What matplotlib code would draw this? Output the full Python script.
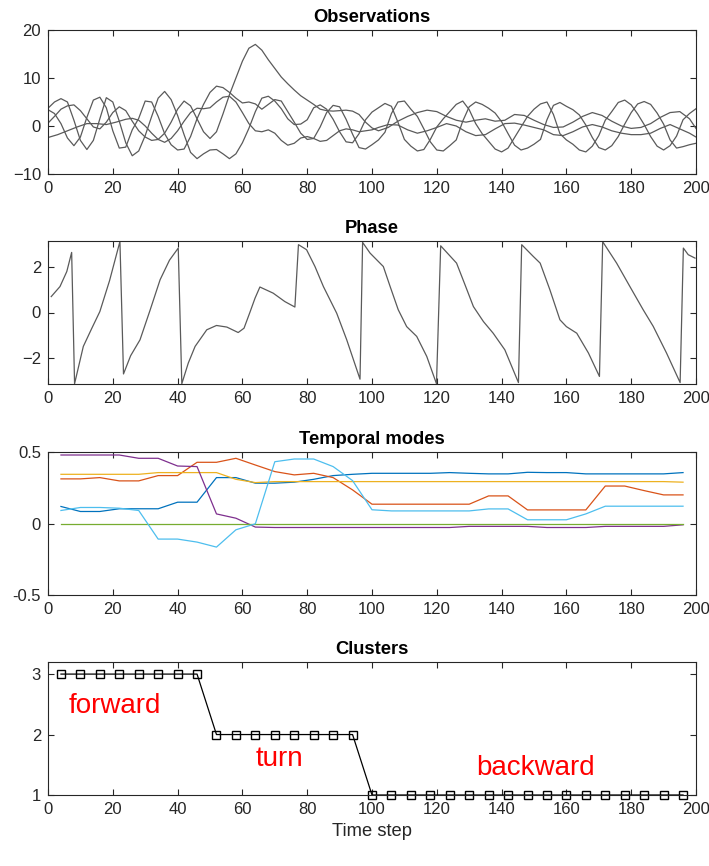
import numpy as np
import matplotlib
matplotlib.use("Agg")
import matplotlib.pyplot as plt

plt.rcParams['font.family'] = ['Liberation Sans', 'DejaVu Sans']

# ---- Observations (four signals) ----
grid_x = list(range(0, 201, 2))
obs_a1 = [3.4, 2.6, 0.5, -2.5, -4.1, -2.3, 1.8, 5.4, 6.0, 3.8,
          -1.0, -4.6, -4.4, -0.8, 1.6, 5.2, 5.0, 2.0, -1.6, -3.9,
          -5.0, -4.8, -2.2, 1.5, 4.5, 7.0, 8.3, 8.0, 7.0, 5.8,
          4.8, 5.0, 4.6, 3.5, 4.5, 5.5, 5.2, 3.0, 0.8, -1.5,
          -2.8, -2.6, -0.2, 2.8, 4.3, 4.0, 1.4, -1.7, -4.5, -4.8,
          -3.9, -2.9, -1.3, 2.6, 5.0, 5.2, 3.5, 2.0, -0.6, -3.3,
          -5.0, -5.2, -4.1, -2.9, 1.0, 4.0, 5.0, 4.5, 3.7, 2.7,
          0.9, -1.6, -4.0, -5.0, -4.6, -3.8, -2.8, 1.3, 4.3, 4.9,
          4.1, 3.4, 2.3, 0.2, -2.4, -4.5, -5.0, -4.1, -2.2, 0.4,
          2.8, 4.6, 5.1, 4.5, 2.7, 0.4, -2.9, -4.6, -4.3, -3.9,
          -3.6]
obs_a2 = [3.7, 5.0, 5.7, 5.0, 1.2, -3.0, -4.9, -3.0, 1.5, 5.9,
          5.0, 1.0, -3.5, -6.2, -5.2, -2.0, 2.0, 5.8, 7.2, 5.5,
          2.2, -1.8, -5.5, -6.8, -5.8, -5.0, -4.9, -5.8, -6.8, -5.8,
          -3.5, -0.5, 3.0, 5.8, 6.2, 5.2, 3.6, 1.5, 0.3, 0.4,
          1.3, 3.8, 4.4, 3.5, 1.4, -1.2, -3.3, -3.5, -1.6, 1.3,
          2.9, 3.8, 4.7, 4.1, 0.8, -2.8, -4.2, -5.2, -4.9, -2.8,
          -0.2, 1.5, 3.0, 4.5, 5.2, 3.4, 0.5, -1.6, -3.2, -4.8,
          -5.4, -4.6, -2.4, -0.2, 2.0, 3.5, 4.6, 5.0, 2.4, -1.6,
          -2.9, -3.8, -5.0, -5.4, -4.2, -2.0, 1.2, 3.0, 4.9, 5.4,
          4.4, 2.5, 0.3, -2.2, -4.2, -5.0, -4.1, -2.1, 1.3, 2.6,
          3.6]

a3_x = list(range(0, 101, 2)) + list(range(102, 199, 3)) + [200]
obs_a3 = [0.6, 2.0, 3.5, 4.2, 4.4, 3.2, 1.5, -0.2, -0.6, 0.8,
          2.8, 4.0, 3.2, 1.0, -1.0, -2.3, -3.0, -2.8, -1.5, 0.8,
          3.5, 5.2, 4.2, 1.5, -1.2, -2.6, -1.2, 2.5, 6.5, 10.0,
          13.5, 16.2, 17.0, 15.8, 13.8, 12.0, 10.2, 8.8, 7.5, 6.3,
          5.4, 4.5, 3.5, 3.2, 3.1, 3.2, 3.3, 3.1, 2.4, 0.8,
          -0.4,
          -1.0, -0.3, 1.0, 2.0, 2.8, 3.3, 3.0, 2.0, 1.2, 0.8,
          1.2, 1.5, 1.0, 1.2, 2.4, 2.2, 1.2, 0.3, -0.3, -0.2,
          0.8, 2.0, 2.8, 2.2, 1.0, 0.0, -0.5, -0.3, 0.5, 1.8,
          2.8, 3.0, 1.5,
          -0.5]

a4_x = [0, 3, 6, 9, 12, 15, 18, 21, 24] + list(range(26, 103, 2)) + list(range(105, 199, 3)) + [200]
obs_a4 = [-2.4, -1.8, -1.0, -0.2, 0.5, 0.5, 0.3, 0.8, 1.4,
          1.6, 1.2, 0.0, -1.5, -2.8, -3.4, -2.6, -1.0, 1.0, 2.8,
          3.7, 3.6, 3.8, 5.0, 6.0, 6.2, 5.0, 2.8, 0.5, -1.0,
          -1.2, -0.8, -1.5, -3.0, -4.0, -3.6, -2.5, -2.2, -2.6, -3.2,
          -3.0, -2.0, -1.0, -0.6, -0.8, -1.2, -1.0, -0.8, -0.3,
          0.3, 0.2, -0.8, -1.5, -1.0, -0.3, 0.5, 0.0, -1.2, -2.0,
          -1.8, -0.6, 0.5, 0.6, 0.2, -0.3, -0.8, -1.8, -2.0, -1.2,
          -0.2, 0.3, -0.2, -1.0, -1.5, -1.8, -1.8, -1.5, -0.5, 0.3,
          -0.6, -1.5,
          -2.3]

# ---- Phase ----
phase_x = [1, 3.7, 5.8, 7.3, 8.2, 10.9, 13.5, 16, 19, 22.2, 23.3, 25.5, 28.4, 31.5, 34.6, 37.5, 40.2,
           41.3, 43.3, 45.4, 49, 52, 55.2, 58.7, 60.5, 62.3, 63.9, 65.4, 69.5, 73.1, 76.2, 77.3, 79.8,
           82.4, 85, 89.1, 92.2, 96.3, 97.1, 99.4, 103.5, 105.6, 108.1, 110.7, 113.8, 116.9, 119.9,
           121.2, 126.1, 128.7, 131.3, 134.4, 137.4, 141, 145.2, 146.2, 149.8, 151.9, 154.9, 158, 160,
           163.2, 166.8, 170.2, 171.2, 175.5, 179.6, 183.7, 186.8, 190.9, 195.1, 196.1, 197.6, 199.7]
phase_y = [0.70, 1.14, 1.80, 2.64, -3.13, -1.49, -0.7, 0.04, 1.4, 3.12, -2.7, -1.9, -1.2, 0.1, 1.44,
           2.3, 2.83, -3.13, -2.22, -1.49, -0.76, -0.57, -0.64, -0.88, -0.69, 0.0, 0.63, 1.12, 0.85,
           0.48, 0.24, 2.98, 2.76, 2.02, 1.14, -0.03, -1.2, -2.93, 3.08, 2.61, 2.02, 1.14, 0.12, -0.62,
           -1.05, -1.93, -3.13, 2.93, 2.17, 1.22, 0.26, -0.40, -0.91, -1.64, -3.08, 2.98, 2.46, 2.17,
           1.0, -0.32, -0.62, -0.91, -1.78, -2.81, 3.11, 2.17, 1.14, 0.12, -0.61, -1.78, -3.08, 2.83,
           2.54, 2.39]

# ---- Temporal modes (33 windows) ----
mode_x = list(range(4, 197, 6))
mode_blue = [0.119, 0.084, 0.084, 0.103, 0.103, 0.103, 0.149, 0.149, 0.321, 0.321, 0.282, 0.282,
             0.289, 0.309, 0.335, 0.344, 0.351, 0.351, 0.351, 0.351, 0.356, 0.351, 0.347, 0.347,
             0.358, 0.356, 0.356, 0.347, 0.347, 0.347, 0.347, 0.347, 0.356]
mode_orange = [0.312, 0.312, 0.321, 0.298, 0.298, 0.335, 0.335, 0.428, 0.428, 0.456, 0.409, 0.363,
               0.340, 0.351, 0.321, 0.235, 0.135, 0.135, 0.135, 0.135, 0.135, 0.135, 0.193, 0.193,
               0.095, 0.095, 0.095, 0.095, 0.262, 0.262, 0.230, 0.200, 0.200]
mode_yellow = [0.344, 0.344, 0.344, 0.344, 0.344, 0.356, 0.356, 0.356, 0.356, 0.309, 0.286, 0.293,
               0.293, 0.293, 0.293, 0.293, 0.293, 0.293, 0.293, 0.293, 0.293, 0.293, 0.293, 0.293,
               0.293, 0.293, 0.293, 0.293, 0.293, 0.293, 0.293, 0.293, 0.289]
mode_purple = [0.479, 0.479, 0.479, 0.479, 0.456, 0.456, 0.402, 0.398, 0.067, 0.037, -0.025, -0.028,
               -0.028, -0.028, -0.028, -0.028, -0.028, -0.028, -0.028, -0.028, -0.028, -0.020, -0.020,
               -0.020, -0.020, -0.028, -0.028, -0.028, -0.020, -0.020, -0.020, -0.020, -0.009]
mode_green = [0.0] * 33
mode_cyan = [0.091, 0.112, 0.112, 0.107, 0.091, -0.109, -0.109, -0.130, -0.165, -0.044, -0.002,
             0.432, 0.451, 0.451, 0.398, 0.300, 0.096, 0.088, 0.088, 0.088, 0.088, 0.088, 0.102,
             0.102, 0.026, 0.026, 0.026, 0.067, 0.121, 0.121, 0.121, 0.121, 0.121]

# ---- Clusters ----
cluster_x = list(range(4, 197, 6))
cluster_id = [3] * 8 + [2] * 8 + [1] * 17
cluster_names = ['forward', 'turn', 'backward']
name_pos_x = [6.5, 64.2, 132.3]
name_pos_y = [2.36, 1.48, 1.33]

W, H = 709, 866
fig = plt.figure(figsize=(W / 100, H / 100), dpi=100)

left, width = 48 / W, 648 / W
boxes = [(30, 174), (241, 384), (452, 595), (662, 795)]
axes = []
for top, bot in boxes:
    ax = fig.add_axes([left, 1 - bot / H, width, (bot - top) / H])
    axes.append(ax)

for ax in axes:
    ax.set_xlim(0, 200)
    ax.set_xticks(range(0, 201, 20))
    ax.tick_params(direction='in', top=True, right=True, length=4.5, width=0.8,
                   labelsize=12, colors='#262626', pad=5)
    for s in ax.spines.values():
        s.set_color('#262626')
        s.set_linewidth(0.8)

ax1, ax2, ax3, ax4 = axes

grey = '#5a5a5a'
ax1.plot(grid_x, obs_a1, color=grey, lw=0.9)
ax1.plot(grid_x, obs_a2, color=grey, lw=0.9)
ax1.plot(a3_x, obs_a3, color=grey, lw=0.9)
ax1.plot(a4_x, obs_a4, color=grey, lw=0.9)
ax1.set_ylim(-10, 20)
ax1.set_yticks([-10, 0, 10, 20])
ax1.set_title('Observations', fontsize=13.2, fontweight='bold')

ax2.plot(phase_x, phase_y, color=grey, lw=0.9)
ax2.set_ylim(-np.pi, np.pi)
ax2.set_yticks([-2, 0, 2])
ax2.set_title('Phase', fontsize=13.2, fontweight='bold')

colors = ['#0072BD', '#D95319', '#EDB120', '#7E2F8E', '#77AC30', '#4DBEEE']
for ys, c in zip((mode_blue, mode_orange, mode_yellow, mode_purple, mode_green, mode_cyan), colors):
    ax3.plot(mode_x, ys, color=c, lw=0.9)
ax3.set_ylim(-0.5, 0.5)
ax3.set_yticks([-0.5, 0, 0.5])
ax3.set_yticklabels(['-0.5', '0', '0.5'])
ax3.set_title('Temporal modes', fontsize=13.2, fontweight='bold')

ax4.plot(cluster_x, cluster_id, color='black', lw=0.9, marker='s', markersize=6,
         markerfacecolor='none', markeredgecolor='black', clip_on=False)
ax4.set_ylim(1, 3.2)
ax4.set_yticks([1, 2, 3])
ax4.set_title('Clusters', fontsize=13.2, fontweight='bold')
ax4.set_xlabel('Time step', fontsize=13.2, color='#262626')
for name, tx, ty in zip(cluster_names, name_pos_x, name_pos_y):
    ax4.text(tx, ty, name, color='red', fontsize=20, ha='left', va='baseline')

fig.savefig('out.png', dpi=100)
